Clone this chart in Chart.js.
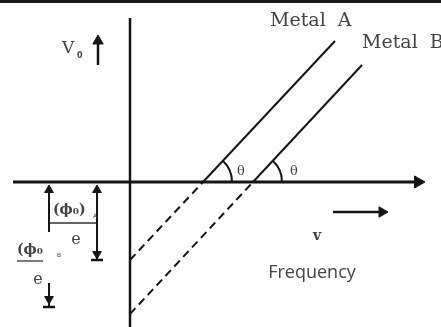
<!DOCTYPE html>
<html>
<head>
<meta charset="utf-8">
<script src="https://cdn.jsdelivr.net/npm/chart.js@4"></script>
<style>
  html, body { margin: 0; padding: 0; background: #fdfdfd; }
  #wrap { position: relative; width: 441px; height: 327px; }
</style>
</head>
<body>
<div id="wrap"><canvas id="plot" width="441" height="327"></canvas></div>
<script>
// Stopping potential V0 against frequency v for two metals (arbitrary units)
const slope = 1.07;
const thresholdA = 7.3;
const thresholdB = 12.3;

const metalA = [{ x: 7.3, y: 0 }, { x: 20.5, y: 14.1 }];
const metalAExt = [{ x: 0, y: -7.8 }, { x: 7.3, y: 0 }];
const metalB = [{ x: 12.3, y: 0 }, { x: 23.2, y: 11.7 }];
const metalBExt = [{ x: 0, y: -13.2 }, { x: 12.3, y: 0 }];

const freqAxis = [{ x: -11.7, y: 0 }, { x: 28.8, y: 0 }];
const voltAxis = [{ x: 0, y: 16.4 }, { x: 0, y: -14.6 }];
const voltArrow = [{ x: -3.2, y: 11.7 }, { x: -3.2, y: 14.1 }];
const freqArrow = [{ x: 20.3, y: -3.0 }, { x: 25.2, y: -3.0 }];

// dimension marks for (phi0)/e of each metal
const workA = [{ x: -3.3, y: -0.8 }, { x: -3.3, y: -7.2 }, { x: -3.3, y: -7.8 }];
const workBTop = [{ x: -8.1, y: -0.8 }, { x: -8.1, y: -5.0 }];
const workBLow = [{ x: -8.1, y: -10.1 }, { x: -8.1, y: -11.7 }, { x: -8.1, y: -12.5 }];
const fracA = [{ x: -8.2, y: -4.1 }, { x: -3.3, y: -4.1 }];
const fracB = [{ x: -11.3, y: -7.9 }, { x: -8.7, y: -7.9 }];

const INK = '#151515';
const TEXT = '#444444';

const labels = [
  { text: 'Metal  A', x: 14.0, y: 15.6, font: '19px "DejaVu Serif"', align: 'left', base: 'alphabetic' },
  { text: 'Metal  B', x: 23.2, y: 13.4, font: '19px "DejaVu Serif"', align: 'left', base: 'alphabetic' },
  { text: 'V', x: -6.8, y: 12.9, font: '17px "DejaVu Serif"', align: 'left', base: 'alphabetic' },
  { text: '0', x: -5.3, y: 12.4, font: 'bold 8px "DejaVu Sans"', align: 'left', base: 'alphabetic' },
  { text: 'θ', x: 11.1, y: 1.0, font: '13px "DejaVu Serif"', align: 'center', base: 'middle' },
  { text: 'θ', x: 16.4, y: 1.0, font: '13px "DejaVu Serif"', align: 'center', base: 'middle' },
  { text: 'v', x: 18.7, y: -5.4, font: 'bold 14px "DejaVu Serif"', align: 'center', base: 'middle' },
  { text: 'Frequency', x: 18.2, y: -9.1, font: '18px "Open Sans"', align: 'center', base: 'middle' },
  { text: '(ϕ₀)', x: -7.7, y: -2.8, font: 'bold 14px "DejaVu Serif"', align: 'left', base: 'middle' },
  { text: 'A', x: -3.7, y: -3.4, font: '6px "DejaVu Sans"', align: 'left', base: 'middle' },
  { text: 'e', x: -5.4, y: -5.8, font: '16px "DejaVu Serif"', align: 'center', base: 'middle' },
  { text: '(ϕ₀', x: -11.3, y: -6.8, font: 'bold 14px "DejaVu Serif"', align: 'left', base: 'middle' },
  { text: 'B', x: -7.3, y: -7.3, font: '6px "DejaVu Sans"', align: 'left', base: 'middle' },
  { text: 'e', x: -9.2, y: -9.8, font: '16px "DejaVu Serif"', align: 'center', base: 'middle' }
];

function seg(data, opts) {
  return Object.assign({
    data: data,
    showLine: true,
    borderColor: INK,
    backgroundColor: INK,
    borderWidth: 2,
    pointRadius: 0,
    pointBorderWidth: 1
  }, opts || {});
}

// page background and top rule
const backdrop = {
  id: 'backdrop',
  beforeDraw(chart) {
    const ctx = chart.ctx;
    ctx.save();
    ctx.fillStyle = '#fdfdfd';
    ctx.fillRect(0, 0, chart.width, chart.height);
    ctx.fillStyle = '#1c1c1c';
    ctx.fillRect(0, 0, chart.width, 3);
    ctx.restore();
  }
};

// angle arcs and text
const notes = {
  id: 'notes',
  afterDatasetsDraw(chart) {
    const ctx = chart.ctx;
    const xs = chart.scales.x, ys = chart.scales.y;
    const ang = Math.atan(slope);
    ctx.save();
    ctx.strokeStyle = INK;
    ctx.lineWidth = 2;
    [thresholdA, thresholdB].forEach(function(t) {
      ctx.beginPath();
      ctx.arc(xs.getPixelForValue(t), ys.getPixelForValue(0), 29, -ang, 0);
      ctx.stroke();
    });
    ctx.fillStyle = TEXT;
    labels.forEach(function(l) {
      ctx.font = l.font;
      ctx.textAlign = l.align;
      ctx.textBaseline = l.base;
      ctx.fillText(l.text, xs.getPixelForValue(l.x), ys.getPixelForValue(l.y));
    });
    ctx.restore();
  }
};

new Chart(document.getElementById('plot').getContext('2d'), {
  type: 'scatter',
  data: {
    datasets: [
      seg(freqAxis, {
        borderWidth: 3,
        pointRadius: [0, 7],
        pointStyle: 'triangle',
        pointRotation: 90
      }),
      seg(voltAxis, { borderWidth: 2.5 }),
      seg(metalA),
      seg(metalB),
      seg(metalAExt, { borderDash: [8, 5] }),
      seg(metalBExt, { borderDash: [8, 5] }),
      seg(voltArrow, {
        borderWidth: 2.5,
        pointRadius: [0, 6],
        pointStyle: 'triangle',
        pointRotation: 0
      }),
      seg(freqArrow, {
        borderWidth: 2.5,
        pointRadius: [0, 6],
        pointStyle: 'triangle',
        pointRotation: 90
      }),
      seg(workA, {
        pointRadius: [5, 5, 6],
        pointStyle: ['triangle', 'triangle', 'line'],
        pointRotation: [0, 180, 0],
        pointBorderWidth: [1, 1, 2.5]
      }),
      seg(workBTop, {
        pointRadius: [5, 0],
        pointStyle: 'triangle',
        pointRotation: 0
      }),
      seg(workBLow, {
        pointRadius: [0, 5, 6],
        pointStyle: ['triangle', 'triangle', 'line'],
        pointRotation: [0, 180, 0],
        pointBorderWidth: [1, 1, 2.5]
      }),
      seg(fracA, { borderWidth: 1.3, borderColor: '#333' }),
      seg(fracB, { borderWidth: 1.3, borderColor: '#333' })
    ]
  },
  options: {
    responsive: false,
    animation: false,
    layout: { padding: 0, autoPadding: false },
    plugins: {
      legend: { display: false },
      tooltip: { enabled: false }
    },
    scales: {
      x: { type: 'linear', min: -13.0, max: 31.1, display: false },
      y: { type: 'linear', min: -14.5, max: 18.2, display: false }
    }
  },
  plugins: [backdrop, notes]
});
</script>
</body>
</html>
